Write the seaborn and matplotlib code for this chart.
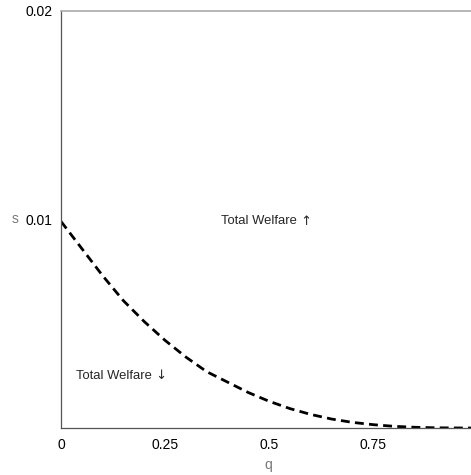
import seaborn as sns
import pandas as pd
import matplotlib.pyplot as plt

# values
q = [0, 0.05, 0.1, 0.15, 0.2, 0.25, 0.3, 0.35, 0.4, 0.45, 0.5, 0.55, 0.6, 0.65, 0.7, 0.75, 0.8, 0.85, 0.9, 0.95, 0.985]
s = [0.0099, 0.0086, 0.0073, 0.0061, 0.0051, 0.0042, 0.0034, 0.0027, 0.0022, 0.0017,
     0.00128, 0.00093, 0.00065, 0.00043, 0.00027, 0.00016, 0.00008, 0.000035, 0.00001, 0.000002, 0.0]
xticks = [0, 0.25, 0.5, 0.75]
xticklabels = ["0", "0.25", "0.5", "0.75"]
yticks = [0.01, 0.02]
yticklabels = ["0.01", "0.02"]

df = pd.DataFrame({"q": q, "s": s})

sns.set_theme(style="white")
plt.rcParams['font.family'] = ['Liberation Sans', 'DejaVu Sans']

fig = plt.figure(figsize=(4.71, 4.75), dpi=100)
ax = fig.add_axes([61 / 471, 47 / 475, 1 - 61 / 471, 417.3 / 475])

sns.lineplot(data=df, x="q", y="s", ax=ax, color="black", linewidth=2.0,
             linestyle=(0, (3.2, 1.9)))

ax.set_xlim(0, 0.985)
ax.set_ylim(0, 0.02)
ax.set_xticks(xticks, xticklabels)
ax.set_yticks(yticks, yticklabels)
ax.tick_params(direction="in", length=3, width=0.8, color="#444444",
               labelsize=10, labelcolor="black")
ax.tick_params(axis="x", pad=7)
ax.tick_params(axis="y", pad=6)

for side in ["left", "bottom"]:
    ax.spines[side].set_color("#555555")
    ax.spines[side].set_linewidth(0.9)
ax.spines["top"].set_color("#aaaaaa")
ax.spines["top"].set_linewidth(1.2)
ax.spines["right"].set_visible(False)

ax.set_xlabel("q", color="#777777", fontsize=10, va="center")
ax.set_ylabel("s", color="#777777", fontsize=10, rotation=0, va="center", ha="center")
ax.xaxis.set_label_coords(0.505, -0.089)
ax.yaxis.set_label_coords(-0.112, 0.5)

# labels, arrows drawn in DejaVu for a full-size glyph
ax.text(0.567, 0.0099, "Total Welfare", fontsize=9.4, ha="right", va="center")
ax.text(0.567, 0.0099, " \u2191", fontsize=9.4, ha="left", va="center",
        family=["DejaVu Sans"])
ax.text(0.219, 0.0025, "Total Welfare", fontsize=9.4, ha="right", va="center")
ax.text(0.219, 0.0025, " \u2193", fontsize=9.4, ha="left", va="center",
        family=["DejaVu Sans"])

fig.savefig("out.png", dpi=100)
